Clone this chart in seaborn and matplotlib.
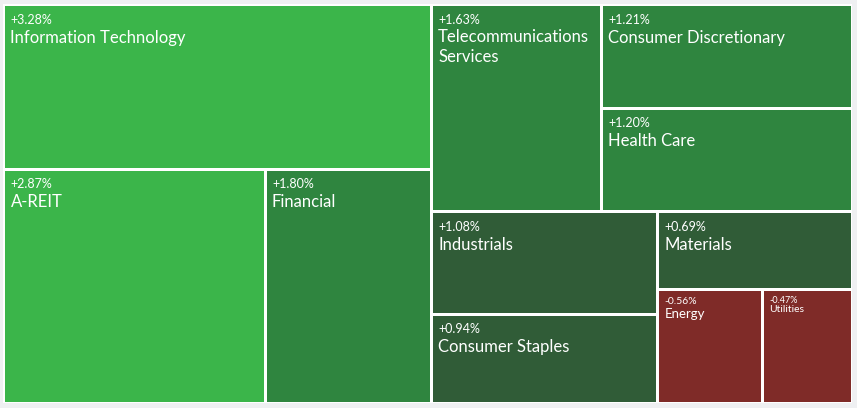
import matplotlib
matplotlib.use("Agg")
import matplotlib.pyplot as plt
from matplotlib.patches import Rectangle
import seaborn as sns

# ---- data ----
sectors = ["Information Technology", "A-REIT", "Financial", "Telecommunications\nServices",
           "Consumer Discretionary", "Health Care", "Industrials", "Consumer Staples",
           "Materials", "Energy", "Utilities"]
changes = [3.28, 2.87, 1.80, 1.63, 1.21, 1.20, 1.08, 0.94, 0.69, -0.56, -0.47]
weights = [70.1, 60.9, 38.7, 35.1, 25.9, 25.8, 23.1, 20.0, 15.0, 11.9, 10.2]

# colour bins for the change
palette = {"strong": "#3bb54a", "mid": "#2f853f", "weak": "#305c37", "neg": "#7f2b28"}


def colour_for(c):
    if c >= 2.0:
        return palette["strong"]
    if c >= 1.15:
        return palette["mid"]
    if c > 0:
        return palette["weak"]
    return palette["neg"]


def binary_layout(idx, x0, y0, x1, y1, depth, out):
    if len(idx) == 1:
        out[idx[0]] = (x0, y0, x1, y1)
        return
    vals = [weights[i] for i in idx]
    total = sum(vals)
    best_k, best_d, cum, best_cum = 1, None, 0.0, 0.0
    for k in range(1, len(idx)):
        cum += vals[k - 1]
        d = abs(cum - total / 2)
        if best_d is None or d < best_d:
            best_k, best_d, best_cum = k, d, cum
    frac = best_cum / total
    if depth % 2 == 0:
        xm = x0 + (x1 - x0) * frac
        binary_layout(idx[:best_k], x0, y0, xm, y1, depth + 1, out)
        binary_layout(idx[best_k:], xm, y0, x1, y1, depth + 1, out)
    else:
        ym = y0 + (y1 - y0) * frac
        binary_layout(idx[:best_k], x0, y0, x1, ym, depth + 1, out)
        binary_layout(idx[best_k:], x0, ym, x1, y1, depth + 1, out)


sns.set_theme(style="white")
plt.rcParams["font.family"] = ["Lato", "DejaVu Sans"]

W, H = 857, 408
fig = plt.figure(figsize=(W / 100, H / 100), dpi=100, facecolor="#eff0f2")
ax = fig.add_axes([0, 0, 1, 1])
ax.set_xlim(0, W)
ax.set_ylim(H, 0)
ax.axis("off")

BX0, BY0, BX1, BY1 = 3.5, 4.0, 852.5, 403.0
ax.add_patch(Rectangle((BX0, BY0), BX1 - BX0, BY1 - BY0, facecolor="white", edgecolor="none"))

rects = {}
binary_layout(list(range(len(sectors))), BX0 + 0.5, BY0 + 0.5, BX1, BY1, 0, rects)

gap = 1.5
for i, name in enumerate(sectors):
    x0, y0, x1, y1 = rects[i]
    rx0, ry0, rx1, ry1 = x0 + gap, y0 + gap, x1 - gap, y1 - gap
    ax.add_patch(Rectangle((rx0, ry0), rx1 - rx0, ry1 - ry0,
                           facecolor=colour_for(changes[i]), edgecolor="none"))
    w = rx1 - rx0
    if w < 95:
        fs_pct, fs_name, dy, top = 6.5, 7.5, 9, 5.5
    elif w < 110:
        fs_pct, fs_name, dy, top = 7.5, 9.5, 11, 6
    else:
        fs_pct, fs_name, dy, top = 9.0, 12.0, 16, 7.5
    sign = "+" if changes[i] > 0 else ""
    ax.text(rx0 + 5, ry0 + top, f"{sign}{changes[i]:.2f}%", color="white",
            fontsize=fs_pct, va="top", ha="left")
    ax.text(rx0 + 5, ry0 + top + dy, name, color="white", fontsize=fs_name,
            va="top", ha="left", linespacing=1.25)

fig.savefig("out.png", dpi=100, facecolor=fig.get_facecolor())
